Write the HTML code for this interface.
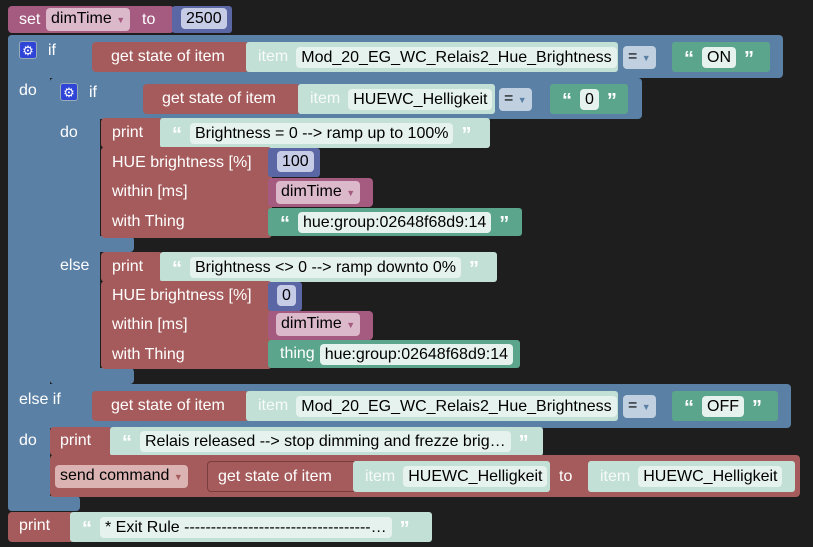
<!DOCTYPE html>
<html><head><style>
body{margin:0;width:813px;height:547px;background:#1e1e1e;overflow:hidden;position:relative;font-family:"Liberation Sans",sans-serif;font-size:16px;color:#fff}
div{position:absolute;box-sizing:border-box}
.b{background:#5b80a5;border-radius:4px}
.r{background:#a55b5b;border-radius:4px}
.p{background:#a55b80;border-radius:4px}
.n{background:#5b67a5;border-radius:3px}
.g{background:#5ba58c;border-radius:3px}
.l{background:#c3e0d6;border-radius:3px}
.x{display:flex;align-items:center;padding-left:12px;gap:8px;white-space:nowrap}
.x span{position:static}
.t{white-space:nowrap;line-height:18px}
.f{background:#e6f2ee;color:#000;border-radius:4px;padding:0 5px;line-height:21px;white-space:nowrap}
.fn{background:#c6cbe6;color:#000;border-radius:4px;padding:0 5px;line-height:21px}
.fp{background:#dbb8ca;color:#000;border-radius:4px;padding:0 5px;line-height:21px;white-space:nowrap}
.fb{background:#c0d0e0;color:#000;border-radius:4px;line-height:21px;padding:0 5px;white-space:nowrap}
.fr{background:#dbb3b3;color:#000;border-radius:4px;line-height:21px;padding:0 5px;white-space:nowrap}
.q{color:#fff;font-weight:bold;font-size:20px;line-height:18px;padding-top:3px}
.gear{background:#2f45d8;border-radius:3px;width:18px;height:18px;color:#fff;font-size:13px;text-align:center;line-height:18px;border:1px solid #9ab}
.ic{color:#fff;opacity:.85}
.dd{font-size:9px}
</style></head><body>

<!-- set -->
<div class="p" style="left:8px;top:6px;width:166px;height:27px"></div>
<div class="t" style="left:19px;top:11px">set</div>
<div class="fp" style="left:46px;top:8px">dimTime <span class="dd" style="color:#a55b80">▼</span></div>
<div class="t" style="left:142px;top:11px">to</div>
<div class="n" style="left:172px;top:6px;width:60px;height:27px"></div>
<div class="fn" style="left:181px;top:8px">2500</div>

<!-- outer if -->
<div class="b" style="left:8px;top:35px;width:775px;height:43px"></div>
<div class="b" style="left:8px;top:35px;width:42px;height:476px;border-radius:4px 0 0 4px"></div>
<div class="b" style="left:8px;top:384px;width:783px;height:44px"></div>
<div class="b" style="left:8px;top:496px;width:72px;height:15px"></div>
<div class="gear" style="left:19px;top:41px">⚙</div>
<div class="t" style="left:48px;top:42px">if</div>
<div class="r" style="left:92px;top:42px;width:157px;height:30px"></div>
<div class="t" style="left:111px;top:48px">get state of item</div>
<div class="l x" style="left:246px;top:42px;width:372px;height:30px"><span class="ic">item</span><span class="f">Mod_20_EG_WC_Relais2_Hue_Brightness</span></div>
<div class="fb" style="left:623px;top:46px">= <span class="dd" style="color:#5b80a5">▼</span></div>
<div class="g x" style="left:672px;top:42px;width:98px;height:30px;padding-left:12px"><span class="q">“</span><span class="f">ON</span><span class="q">”</span></div>
<div class="t" style="left:19px;top:82px">do</div>

<!-- inner if -->
<div class="b" style="left:50px;top:78px;width:592px;height:41px"></div>
<div class="b" style="left:50px;top:78px;width:50px;height:306px"></div>
<div class="b" style="left:50px;top:236px;width:84px;height:16px"></div>
<div class="b" style="left:50px;top:368px;width:84px;height:16px"></div>
<div class="gear" style="left:60px;top:83px">⚙</div>
<div class="t" style="left:89px;top:84px">if</div>
<div class="r" style="left:143px;top:84px;width:157px;height:30px"></div>
<div class="t" style="left:162px;top:90px">get state of item</div>
<div class="l x" style="left:298px;top:84px;width:197px;height:30px"><span class="ic">item</span><span class="f">HUEWC_Helligkeit</span></div>
<div class="fb" style="left:499px;top:88px">= <span class="dd" style="color:#5b80a5">▼</span></div>
<div class="g x" style="left:550px;top:84px;width:78px;height:30px"><span class="q">“</span><span class="f">0</span><span class="q">”</span></div>
<div class="t" style="left:60px;top:124px">do</div>
<div class="t" style="left:60px;top:257px">else</div>

<!-- print 1 -->
<div class="r" style="left:101px;top:118px;width:62px;height:30px"></div>
<div class="t" style="left:112px;top:124px">print</div>
<div class="l x" style="left:160px;top:118px;width:330px;height:30px"><span class="q">“</span><span class="f">Brightness = 0 --&gt; ramp up to 100%</span><span class="q">”</span></div>
<!-- HUE 1 -->
<div class="r" style="left:101px;top:147px;width:171px;height:91px"></div>
<div class="t" style="left:112px;top:154px">HUE brightness [%]</div>
<div class="t" style="left:112px;top:183px">within [ms]</div>
<div class="t" style="left:112px;top:213px">with Thing</div>
<div class="n" style="left:268px;top:148px;width:52px;height:29px"></div>
<div class="fn" style="left:277px;top:151px">100</div>
<div class="p" style="left:268px;top:178px;width:105px;height:29px"></div>
<div class="fp" style="left:276px;top:181px">dimTime <span class="dd" style="color:#a55b80">▼</span></div>
<div class="g x" style="left:268px;top:208px;width:254px;height:28px"><span class="q">“</span><span class="f">hue:group:02648f68d9:14</span><span class="q">”</span></div>

<!-- print 2 -->
<div class="r" style="left:101px;top:252px;width:62px;height:30px"></div>
<div class="t" style="left:112px;top:258px">print</div>
<div class="l x" style="left:160px;top:252px;width:337px;height:30px"><span class="q">“</span><span class="f">Brightness &lt;&gt; 0 --&gt; ramp downto 0%</span><span class="q">”</span></div>
<div class="r" style="left:101px;top:281px;width:171px;height:88px"></div>
<div class="t" style="left:112px;top:287px">HUE brightness [%]</div>
<div class="t" style="left:112px;top:316px">within [ms]</div>
<div class="t" style="left:112px;top:346px">with Thing</div>
<div class="n" style="left:268px;top:282px;width:34px;height:29px"></div>
<div class="fn" style="left:277px;top:285px">0</div>
<div class="p" style="left:268px;top:311px;width:105px;height:29px"></div>
<div class="fp" style="left:276px;top:313px">dimTime <span class="dd" style="color:#a55b80">▼</span></div>
<div class="g x" style="left:268px;top:340px;width:252px;height:28px"><span>thing</span><span class="f" style="margin-left:-3px">hue:group:02648f68d9:14</span></div>

<!-- else if -->
<div class="t" style="left:19px;top:391px">else if</div>
<div class="r" style="left:92px;top:391px;width:157px;height:30px"></div>
<div class="t" style="left:111px;top:397px">get state of item</div>
<div class="l x" style="left:246px;top:391px;width:372px;height:30px"><span class="ic">item</span><span class="f">Mod_20_EG_WC_Relais2_Hue_Brightness</span></div>
<div class="fb" style="left:623px;top:395px">= <span class="dd" style="color:#5b80a5">▼</span></div>
<div class="g x" style="left:672px;top:391px;width:106px;height:30px"><span class="q">“</span><span class="f">OFF</span><span class="q">”</span></div>
<div class="t" style="left:19px;top:432px">do</div>

<div class="r" style="left:50px;top:427px;width:62px;height:29px"></div>
<div class="t" style="left:60px;top:432px">print</div>
<div class="l x" style="left:110px;top:427px;width:433px;height:29px"><span class="q">“</span><span class="f">Relais released --&gt; stop dimming and frezze brig…</span><span class="q">”</span></div>
<div class="r" style="left:50px;top:455px;width:750px;height:42px"></div>
<div class="fr" style="left:55px;top:465px">send command <span class="dd" style="color:#a55b5b">▼</span></div>
<div class="r" style="left:207px;top:461px;width:150px;height:31px;border:1px solid #7a3c3c"></div>
<div class="t" style="left:218px;top:468px">get state of item</div>
<div class="l x" style="left:353px;top:461px;width:197px;height:31px"><span class="ic">item</span><span class="f">HUEWC_Helligkeit</span></div>
<div class="t" style="left:559px;top:468px">to</div>
<div class="l x" style="left:588px;top:461px;width:207px;height:31px"><span class="ic">item</span><span class="f">HUEWC_Helligkeit</span></div>

<!-- final print -->
<div class="r" style="left:8px;top:512px;width:66px;height:30px"></div>
<div class="t" style="left:19px;top:517px">print</div>
<div class="l x" style="left:70px;top:512px;width:362px;height:30px"><span class="q">“</span><span class="f">* Exit Rule -----------------------------------…</span><span class="q">”</span></div>
</body></html>
